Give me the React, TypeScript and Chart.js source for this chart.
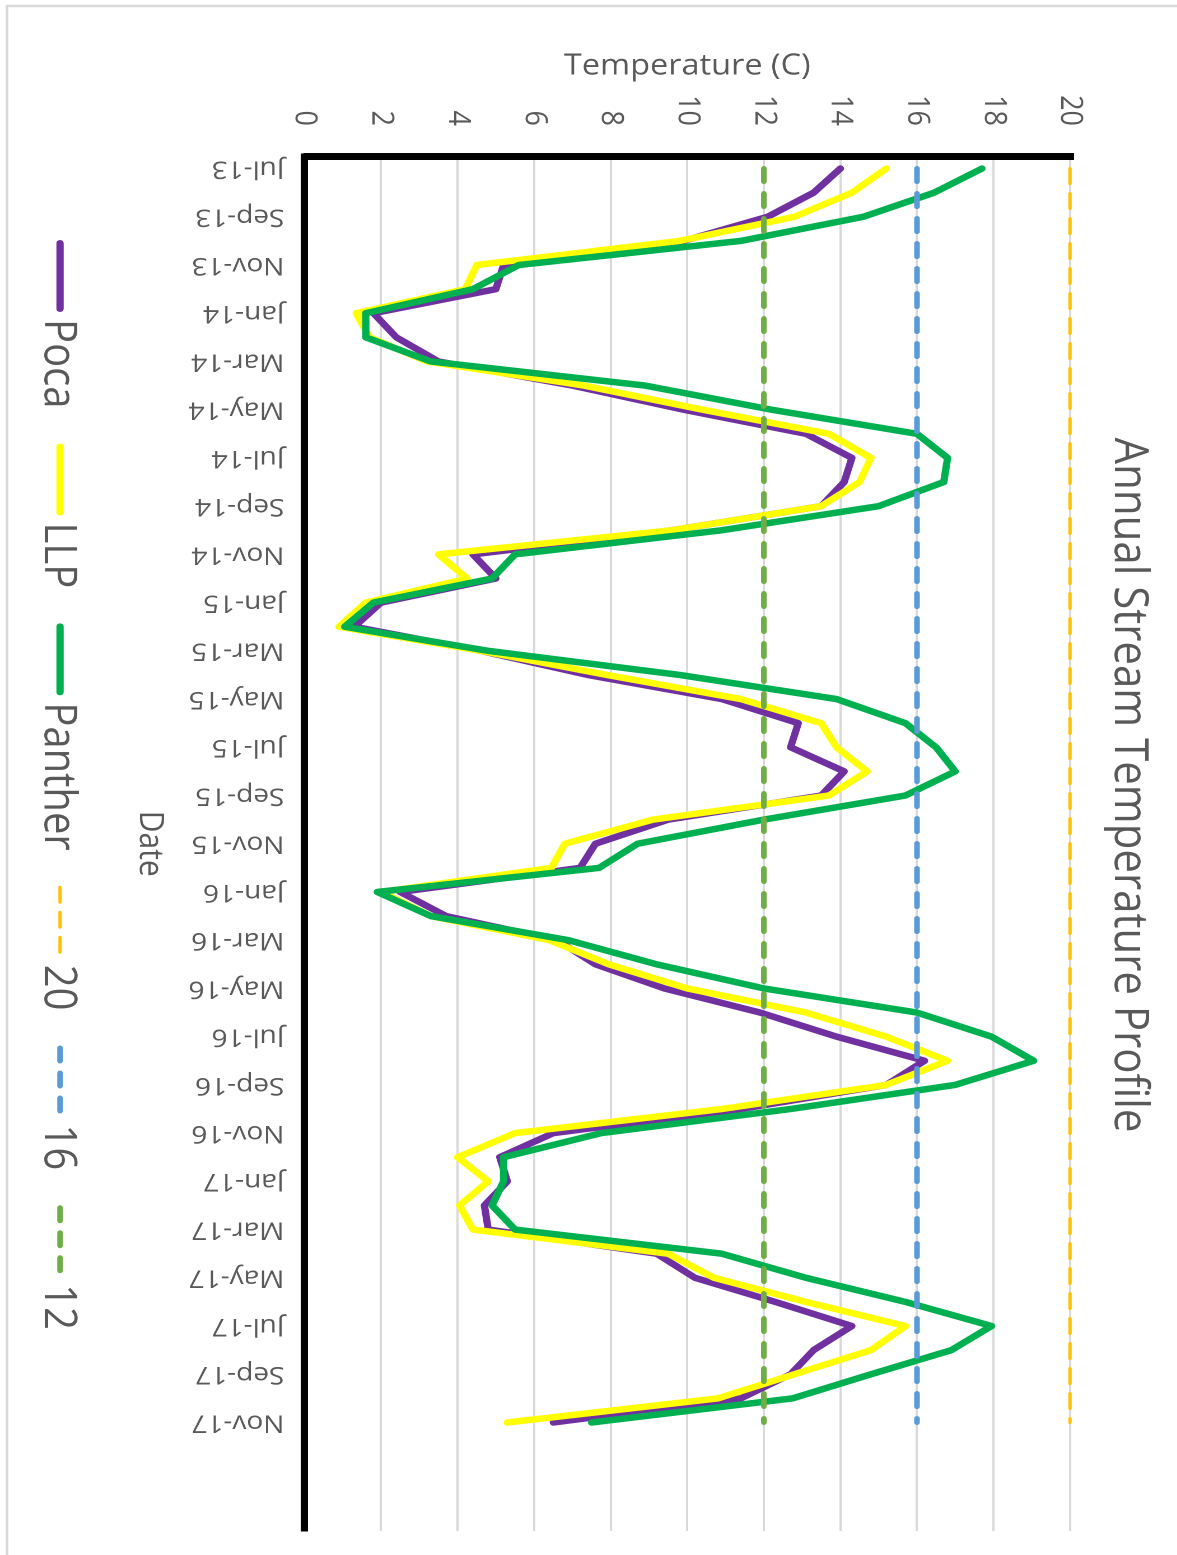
import { useEffect, useRef } from "react";
import { Chart, registerables } from "chart.js";

Chart.register(...registerables);

// Monthly sampling dates (category of each reading)
const MONTHS = [
  "Jul-13", "Aug-13", "Sep-13", "Oct-13", "Nov-13", "Dec-13",
  "Jan-14", "Feb-14", "Mar-14", "Apr-14", "May-14", "Jun-14",
  "Jul-14", "Aug-14", "Sep-14", "Oct-14", "Nov-14", "Dec-14",
  "Jan-15", "Feb-15", "Mar-15", "Apr-15", "May-15", "Jun-15",
  "Jul-15", "Aug-15", "Sep-15", "Oct-15", "Nov-15", "Dec-15",
  "Jan-16", "Feb-16", "Mar-16", "Apr-16", "May-16", "Jun-16",
  "Jul-16", "Aug-16", "Sep-16", "Oct-16", "Nov-16", "Dec-16",
  "Jan-17", "Feb-17", "Mar-17", "Apr-17", "May-17", "Jun-17",
  "Jul-17", "Aug-17", "Sep-17", "Oct-17", "Nov-17",
];

// Mean stream temperature (C) per month
const POCA = [
  14.0, 13.3, 12.1, 9.9, 5.2, 5.0, 1.8, 2.4, 3.5, 7.0, 9.9, 13.1,
  14.3, 14.1, 13.5, 9.6, 4.4, 5.0, 2.0, 1.3, 4.6, 7.4, 10.9, 12.9,
  12.7, 14.1, 13.5, 9.5, 7.6, 7.2, 2.5, 3.7, 6.6, 7.6, 9.4, 11.9,
  13.9, 16.2, 15.2, 11.4, 6.5, 5.1, 5.3, 4.7, 4.8, 9.2, 10.2, 12.3,
  14.3, 13.3, 12.7, 11.4, 6.5,
];
const LLP = [
  15.2, 14.3, 12.8, 9.8, 4.5, 4.2, 1.35, 1.7, 3.2, 7.3, 10.4, 13.7,
  14.8, 14.5, 13.5, 9.6, 3.5, 4.25, 1.6, 0.9, 4.6, 7.9, 11.4, 13.5,
  13.9, 14.7, 13.7, 9.1, 6.8, 6.45, 2.0, 3.3, 6.4, 7.95, 10.0, 13.1,
  15.2, 16.8, 15.2, 10.9, 5.5, 4.0, 4.8, 4.05, 4.4, 9.5, 10.7, 13.1,
  15.7, 14.8, 12.8, 10.8, 5.3,
];
const PANTHER = [
  17.7, 16.45, 14.6, 11.4, 5.6, 4.4, 1.6, 1.6, 3.3, 8.9, 12.2, 16.0,
  16.8, 16.7, 15.0, 10.9, 5.5, 4.9, 1.8, 1.05, 4.8, 9.8, 13.9, 15.7,
  16.5, 17.0, 15.7, 12.0, 8.7, 7.7, 1.9, 3.3, 6.9, 9.2, 12.0, 16.0,
  17.95, 19.05, 17.0, 12.7, 7.75, 5.2, 5.2, 4.9, 5.5, 10.9, 13.1, 15.7,
  17.95, 16.9, 14.8, 12.75, 7.5,
];

// Threshold temperatures drawn as dashed reference lines
const THRESHOLDS = [20, 16, 12];
const THRESHOLD_COLORS = ["#ffc000", "#5b9bd5", "#70ad47"];
const THRESHOLD_WIDTHS = [3, 5, 5];
const THRESHOLD_DASHES = [[15, 10], [13, 12], [13, 12]];

const TITLE = "Annual Stream Temperature Profile";
const FONT = "'Open Sans', sans-serif";
const TEXT = "#595959";

// Chart is laid out landscape, then turned a quarter turn clockwise on the page
const W = 1555;
const H = 1051;
const STRETCH = 1.12;
const CENTER_X = 785;
const SERIES_WIDTH = 6.5;

const framePlugin = {
  id: "frame",
  beforeDraw(chart: any) {
    const { ctx } = chart;
    ctx.save();
    ctx.fillStyle = "#ffffff";
    ctx.fillRect(0, 0, chart.width, chart.height);
    ctx.strokeStyle = "#d9d9d9";
    ctx.lineWidth = 2.5;
    ctx.beginPath();
    ctx.moveTo(6, 0);
    ctx.lineTo(6, 1044.8);
    ctx.lineTo(chart.width, 1044.8);
    ctx.stroke();
    ctx.restore();
  },
};

const dateLabelPlugin = {
  id: "dateLabels",
  afterDraw(chart: any) {
    const { ctx, chartArea, scales } = chart;
    ctx.save();
    ctx.fillStyle = TEXT;
    ctx.font = `25px ${FONT}`;
    ctx.textAlign = "left";
    ctx.textBaseline = "middle";
    MONTHS.forEach((m, i) => {
      if (i % 2 !== 0) return;
      const x = scales.x.getPixelForValue(i);
      ctx.save();
      ctx.translate(x, chartArea.bottom + 18);
      ctx.rotate(Math.PI / 2);
      ctx.fillText(m, 0, 0);
      ctx.restore();
    });
    ctx.restore();
  },
};

const headerLegendPlugin = {
  id: "headerLegend",
  afterDraw(chart: any) {
    const { ctx } = chart;
    ctx.save();
    ctx.fillStyle = TEXT;
    ctx.font = `42px ${FONT}`;
    ctx.textAlign = "center";
    ctx.textBaseline = "alphabetic";
    ctx.fillText(TITLE, CENTER_X, 55.5);

    ctx.font = `40px ${FONT}`;
    ctx.textAlign = "left";
    const MARK = 72;
    const GAP = 7;
    const SPACE = 35;
    const items = chart.data.datasets.map((ds: any) => ({
      text: ds.label,
      color: ds.borderColor,
      width: ds.borderWidth,
      dash: ds.borderDash || [],
      tw: ctx.measureText(ds.label).width,
    }));
    const total =
      items.reduce((s: number, it: any) => s + MARK + GAP + it.tw, 0) +
      SPACE * (items.length - 1);
    let x = CENTER_X - total / 2;
    const markY = 997.4;
    items.forEach((it: any) => {
      ctx.save();
      ctx.strokeStyle = it.color;
      ctx.lineWidth = it.width;
      ctx.lineCap = "round";
      ctx.setLineDash(it.dash);
      ctx.beginPath();
      ctx.moveTo(x + it.width / 2, markY);
      ctx.lineTo(x + MARK - it.width / 2, markY);
      ctx.stroke();
      ctx.restore();
      ctx.fillText(it.text, x + MARK + GAP, 1010.8);
      x += MARK + GAP + it.tw + SPACE;
    });
    ctx.restore();
  },
};

export default function App() {
  const ref = useRef<HTMLCanvasElement>(null);

  useEffect(() => {
    const canvas = ref.current;
    if (!canvas) return;
    const series = (vals: number[]) => vals.map((y, x) => ({ x, y }));
    const flat = (v: number) => [
      { x: 0, y: v },
      { x: MONTHS.length - 1, y: v },
    ];
    const lineStyle = {
      pointRadius: 0,
      borderJoinStyle: "round" as const,
      borderCapStyle: "round" as const,
      tension: 0,
      fill: false,
      clip: false as const,
    };

    const chart = new Chart(canvas, {
      type: "line",
      data: {
        datasets: [
          { label: "Poca", data: series(POCA), borderColor: "#7030a0", borderWidth: SERIES_WIDTH, order: 5, ...lineStyle },
          { label: "LLP", data: series(LLP), borderColor: "#ffff00", borderWidth: SERIES_WIDTH, order: 4, ...lineStyle },
          { label: "Panther", data: series(PANTHER), borderColor: "#00b050", borderWidth: SERIES_WIDTH, order: 3, ...lineStyle },
          ...THRESHOLDS.map((t, k) => ({
            label: String(t),
            data: flat(t),
            borderColor: THRESHOLD_COLORS[k],
            borderWidth: THRESHOLD_WIDTHS[k],
            borderDash: THRESHOLD_DASHES[k],
            order: 2 - k,
            ...lineStyle,
          })),
        ],
      },
      options: {
        responsive: false,
        animation: false,
        devicePixelRatio: 2,
        events: [],
        layout: { padding: { left: 0, top: 95.6, right: 24, bottom: H - 779.1 - 160 } },
        plugins: {
          legend: { display: false },
          title: { display: false },
          tooltip: { enabled: false },
        },
        scales: {
          x: {
            type: "linear",
            min: -0.5,
            max: 56.5,
            grid: { display: false, drawTicks: false },
            border: { display: true, color: "#000000", width: 6.5 },
            ticks: { display: false },
            title: {
              display: true,
              text: "Date",
              color: TEXT,
              font: { family: FONT, size: 30 },
              padding: { top: 0, bottom: 3.6 },
            },
            afterFit: (s: any) => {
              s.height = 160;
            },
          },
          y: {
            min: 0,
            max: 20,
            ticks: {
              stepSize: 2,
              padding: 30.5,
              color: TEXT,
              font: { family: FONT, size: 27 },
            },
            grid: { color: "#d9d9d9", lineWidth: 2, drawTicks: false },
            border: { display: true, color: "#000000", width: 7 },
            title: {
              display: true,
              text: "Temperature (C)",
              color: TEXT,
              font: { family: FONT, size: 29 },
              padding: { top: 49, bottom: 0 },
            },
            afterFit: (s: any) => {
              s.width = 156.5;
            },
          },
        },
      },
      plugins: [framePlugin, dateLabelPlugin, headerLegendPlugin],
    });
    return () => chart.destroy();
  }, []);

  return (
    <div
      style={{
        position: "absolute",
        left: 0,
        top: 0,
        width: 1177,
        height: 1555,
        overflow: "hidden",
        background: "#ffffff",
      }}
    >
      <div
        style={{
          position: "absolute",
          left: 0,
          top: 0,
          width: W,
          height: H,
          transformOrigin: "0 0",
          transform: `translate(${H * STRETCH}px, 0px) scale(${STRETCH}, 1) rotate(90deg)`,
        }}
      >
        <canvas ref={ref} width={W} height={H} style={{ width: W, height: H, display: "block" }} />
      </div>
    </div>
  );
}
